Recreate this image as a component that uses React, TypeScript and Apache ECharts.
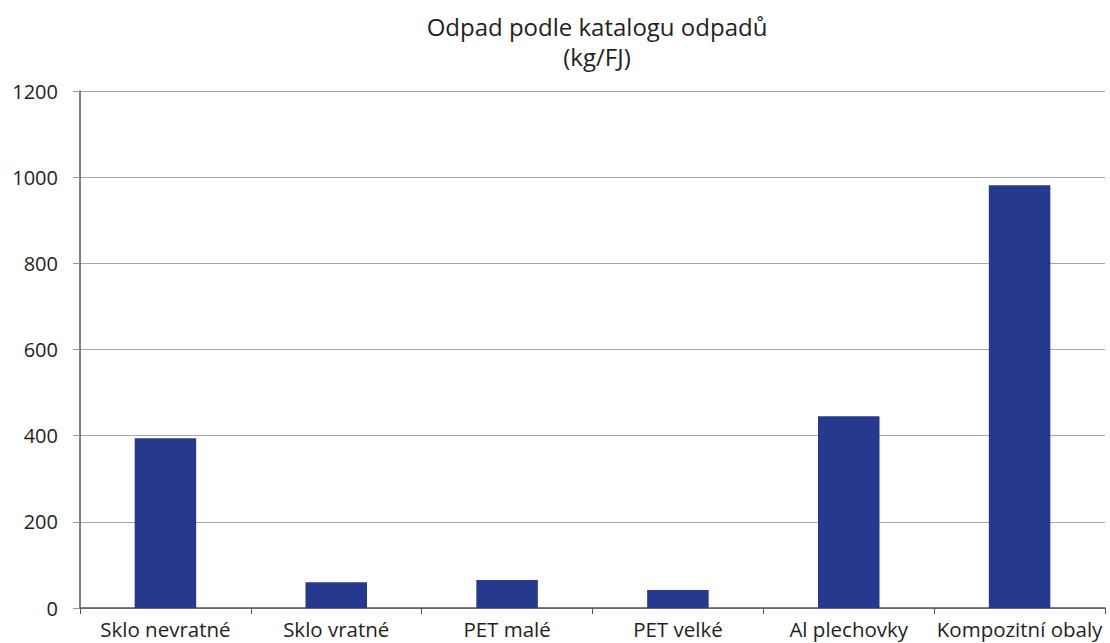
import React, { useEffect, useRef } from "react";
import * as echarts from "echarts";

const categories = ["Sklo nevratné", "Sklo vratné", "PET malé", "PET velké", "Al plechovky", "Kompozitní obaly"];
const values = [394, 60, 65, 42, 445, 981];
const titleText = "Odpad podle katalogu odpadů\n(kg/FJ)";

export default function App() {
  const ref = useRef<HTMLDivElement>(null);
  useEffect(() => {
    const chart = echarts.init(ref.current!, null, { renderer: "svg" });
    const font = "'Open Sans', 'Noto Sans', sans-serif";
    chart.setOption({
      animation: false,
      backgroundColor: "#ffffff",
      title: {
        text: titleText,
        left: 592,
        top: 6,
        textAlign: "center",
        textStyle: { fontFamily: font, fontSize: 24, fontWeight: "normal", color: "#231f20", lineHeight: 30 },
      },
      grid: { left: 80, right: 5, top: 91, bottom: 35, containLabel: false },
      xAxis: {
        type: "category",
        data: categories,
        axisLine: { lineStyle: { color: "#555555", width: 1.5 } },
        axisTick: { show: true, length: 6, lineStyle: { color: "#555555" } },
        axisLabel: { fontFamily: font, fontSize: 20.5, color: "#231f20", margin: 10, interval: 0 },
      },
      yAxis: {
        type: "value",
        min: 0,
        max: 1200,
        interval: 200,
        axisLine: { show: true, lineStyle: { color: "#555555", width: 1.5 } },
        axisTick: { show: true, length: 7, lineStyle: { color: "#999999" } },
        axisLabel: { fontFamily: font, fontSize: 20, color: "#231f20", margin: 22, formatter: (v: number) => String(v) },
        splitLine: { lineStyle: { color: "#a6a6a6", width: 1 } },
      },
      series: [
        {
          type: "bar",
          data: values,
          barWidth: "36%",
          itemStyle: { color: "#27398c" },
        },
      ],
    });
    return () => chart.dispose();
  }, []);
  return <div ref={ref} style={{ width: 1110, height: 643, position: "absolute", left: 0, top: 0 }} />;
}
